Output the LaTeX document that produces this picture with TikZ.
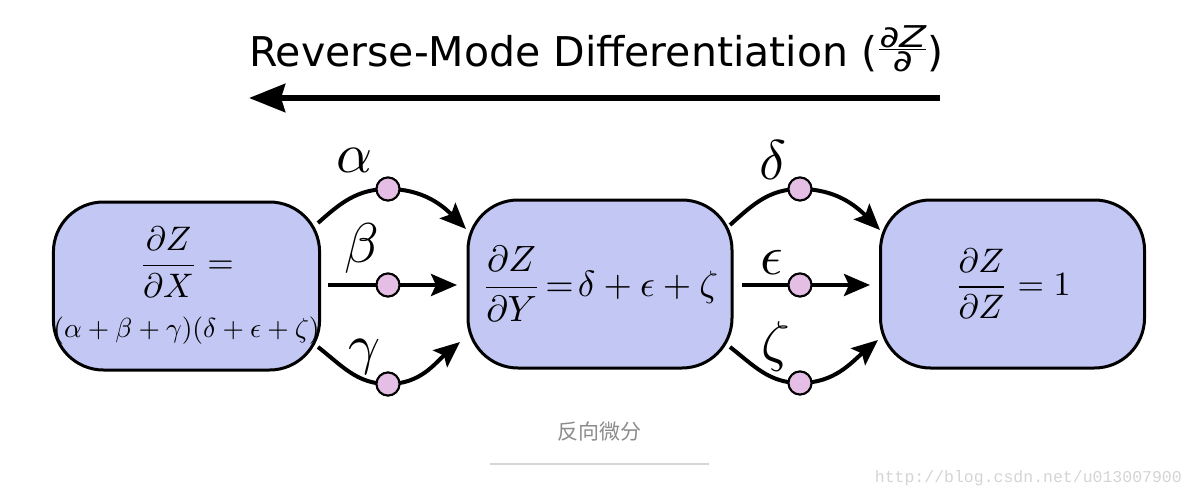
\documentclass[tikz,border=0pt]{standalone}
\usepackage{fontspec}
\newfontfamily\titlefont{DejaVu Sans}
\newfontfamily\cjk{Noto Sans CJK SC}
\newfontfamily\wmfont{Liberation Mono}
\usetikzlibrary{arrows.meta}
\definecolor{boxblue}{RGB}{194,199,244}
\definecolor{nodepink}{RGB}{228,190,228}
\definecolor{capgray}{RGB}{140,140,140}
\definecolor{linegray}{RGB}{214,214,214}
\definecolor{wmgray}{RGB}{212,212,212}
\newcommand{\titlefrac}[2]{{%
  \setbox0\hbox{#1}\setbox2\hbox{#2}%
  \dimen0=\ifdim\wd0>\wd2 \wd0\else\wd2\fi
  \vbox{\hbox to\dimen0{\hss\box0\hss}\kern1pt\hrule height 1.5pt\kern2pt\hbox to\dimen0{\hss\box2\hss}}}}
\tikzset{
  box/.style={draw=black, line width=3pt, fill=boxblue, rounded corners=50pt,
    minimum width=264pt, minimum height=168pt, inner sep=0pt, align=center},
  dot/.style={circle, draw=black, line width=2pt, fill=nodepink, minimum size=23pt, inner sep=0pt},
  edge/.style={line width=4pt, -{Stealth[length=26pt,width=22pt,inset=5pt]}},
  seg/.style={line width=4pt},
  greek/.style={inner sep=0pt},
}
\begin{document}
\begin{tikzpicture}[x=1pt,y=-1pt]
\useasboundingbox (0,0) rectangle (1193,497);
% title
\node[anchor=base west, inner sep=0pt, font=\titlefont\fontsize{41}{44}\selectfont] (title) at (249,67)
  {Reverse-Mode Differentiation (\kern2pt\raisebox{-5pt}{\scalebox{1.3}[1]{\fontsize{30}{30}\selectfont\itshape\titlefrac{∂Z}{∂}}}\kern1pt)};
\coordinate (ta) at (940,98);
\coordinate (tb) at (249,98);
\draw[line width=6pt, -{Stealth[length=36pt,width=28pt,inset=4pt]}] (ta) -- (tb);
% boxes
\node[box] (X) at (186.5,286)
  {\scalebox{3.4}{$\displaystyle\frac{\partial Z}{\partial X}=$}\\[19pt]
   \scalebox{2.75}{$(\alpha+\beta+\gamma)(\delta+\epsilon+\zeta)$}\\[-5pt]};
\node[box] (Y) at (600,284)
  {\scalebox{3.65}{$\displaystyle\frac{\partial Z}{\partial Y}\!=\!\delta+\epsilon+\zeta$}};
\node[box] (Z) at (1012.5,284)
  {\scalebox{3.4}{$\displaystyle\frac{\partial Z}{\partial Z}=1$}};
% dots
\node[dot] (a) at (388,189) {};
\node[dot] (b) at (388,285) {};
\node[dot] (g) at (388,384) {};
\node[dot] (d) at (800,189) {};
\node[dot] (e) at (800,285) {};
\node[dot] (z) at (800,383) {};
% start/end coordinates
\coordinate (a0) at (318,223);
\coordinate (a1) at (466,229);
\coordinate (b0) at (328,285);
\coordinate (b1) at (457,285);
\coordinate (g0) at (318,347);
\coordinate (g1) at (460,342);
\coordinate (d0) at (730,225);
\coordinate (d1) at (880,230);
\coordinate (e0) at (742,285);
\coordinate (e1) at (870,285);
\coordinate (z0) at (730,347);
\coordinate (z1) at (878,340);
% connectors
\draw[seg] (a0) to[out=42,in=180] (a.center);
\draw[edge] (a.center) to[out=0,in=135] (a1);
\draw[seg] (b0) -- (b.center);
\draw[edge] (b.center) -- (b1);
\draw[seg] (g0) to[out=-38,in=180] (g.center);
\draw[edge] (g.center) to[out=0,in=-140] (g1);
\draw[seg] (d0) to[out=42,in=180] (d.center);
\draw[edge] (d.center) to[out=0,in=135] (d1);
\draw[seg] (e0) -- (e.center);
\draw[edge] (e.center) -- (e1);
\draw[seg] (z0) to[out=-38,in=180] (z.center);
\draw[edge] (z.center) to[out=0,in=-140] (z1);
% redraw dots on top
\foreach \n in {a,b,g,d,e,z}
  \fill[nodepink, draw=black, line width=2pt] (\n.center) circle (11.5pt);
% labels
\node[greek] (la) at (355,160) {\scalebox{5.6}{$\alpha$}};
\node[greek] (lb) at (362,248) {\scalebox{5.6}{$\beta$}};
\node[greek] (lg) at (365,357) {\scalebox{5.6}{$\gamma$}};
\node[greek] (ld) at (773,160) {\scalebox{5.6}{$\delta$}};
\node[greek] (le) at (772,262) {\scalebox{5.6}{$\epsilon$}};
\node[greek] (lz) at (776,346) {\scalebox{5.6}{$\zeta$}};
% caption
\node[font=\cjk\fontsize{21}{24}\selectfont, text=capgray, inner sep=0pt] (cap) at (599,432) {反向微分};
\coordinate (l0) at (490,464);
\coordinate (l1) at (709,464);
\draw[linegray, line width=2pt] (l0) -- (l1);
\node[font=\wmfont\fontsize{16.5}{18}\selectfont, text=wmgray, anchor=east, inner sep=0pt] (wm) at (1182,478) {http://blog.csdn.net/u013007900};
\end{tikzpicture}
\end{document}
